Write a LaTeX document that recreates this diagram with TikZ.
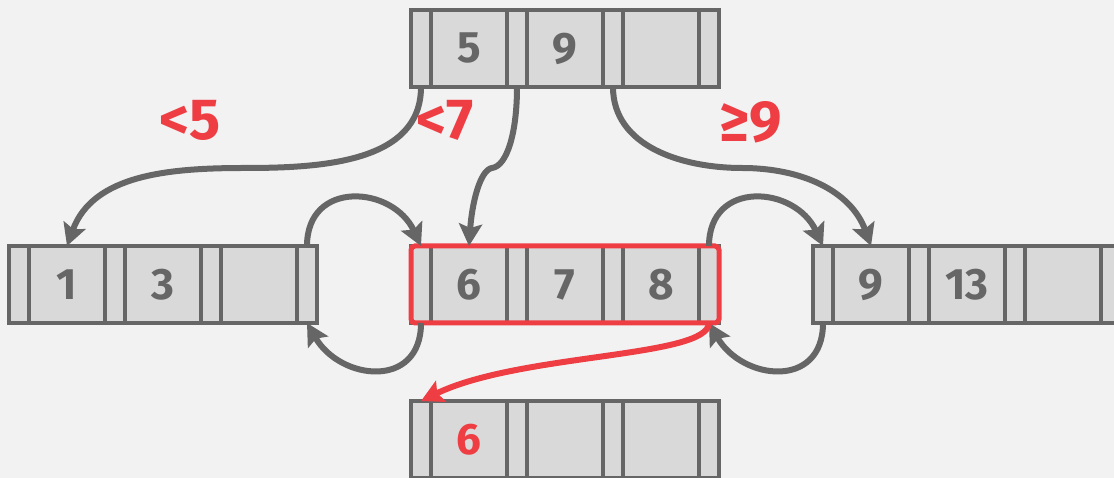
\documentclass[tikz,border=0pt]{standalone}
\usepackage{fontspec}
\setmainfont{Fira Sans}
\usetikzlibrary{arrows.meta,positioning,fit}

\definecolor{lineg}{HTML}{666666}
\definecolor{cellg}{HTML}{D9D9D9}
\definecolor{bgg}{HTML}{F2F2F2}
\definecolor{bred}{HTML}{EE3E44}

\begin{document}
\begin{tikzpicture}[
  x=1pt, y=1pt,
  >={Stealth[length=22pt,width=23pt,inset=4pt]},
  % Node cells
  ptrcell/.style={
    rectangle, draw=lineg, fill=cellg, line width=3.5pt,
    minimum width=20pt, minimum height=77pt,
    inner sep=0pt, outer sep=0pt
  },
  keycell/.style={
    ptrcell, minimum width=76pt, text=lineg,
    font=\fontsize{44}{44}\selectfont\bfseries
  },
  hilite/.style={
    rectangle, draw=bred, line width=5pt, rounded corners=4pt,
    inner sep=0pt, outer sep=0pt
  },
  % Separator labels
  guard/.style={text=bred, font=\fontsize{58}{58}\selectfont\bfseries},
  % Arrows
  link/.style={->, draw=lineg, line width=6pt},
  rlink/.style={->, draw=bred, line width=6pt},
]

\useasboundingbox (0,0) rectangle (1114,478);
\fill[bgg] (0,0) rectangle (1114,478);
\clip (0,0) rectangle (1114,478);

% -------------------------------------------------------
% NODES — inner node (t), leaves (l, m, r), new leaf (b)
% -------------------------------------------------------
\foreach \nm/\px/\py/\ka/\kb/\kc in {t/411/391/5/9/{}, l/9/155/1/3/{},
    m/411/155/6/7/8, r/813/155/9/13/{}, b/411/0/{\color{bred}6}/{}/{}}{
  \node[ptrcell, anchor=south west] (\nm-p0) at (\px,\py) {};
  \node[keycell, right=0pt of \nm-p0] (\nm-k1) {\ka};
  \node[ptrcell, right=0pt of \nm-k1] (\nm-p1) {};
  \node[keycell, right=0pt of \nm-p1] (\nm-k2) {\kb};
  \node[ptrcell, right=0pt of \nm-k2] (\nm-p2) {};
  \node[keycell, right=0pt of \nm-p2] (\nm-k3) {\kc};
  \node[ptrcell, right=0pt of \nm-k3] (\nm-p3) {};
}

% full leaf
\node[hilite, fit=(m-p0)(m-p3)] (mbox) {};

% -------------------------------------------------------
% INNER NODE -> LEAVES
% -------------------------------------------------------
\coordinate (lmid) at (245,310);
\coordinate (bend) at (492,310);
\coordinate (rmid) at (742,310);
\draw[link] (t-p0.south) to[out=-90,in=0] (lmid) to[out=180,in=70] (l-k1.north);
\draw[link] (t-p1.south) .. controls (517,345) and (507,312) .. (bend)
  .. controls (480,308) and (472,275) .. (m-k1.north);
\draw[link] (t-p2.south) to[out=-90,in=180] (rmid) to[out=0,in=110] (r-k1.north);

\node[guard] (lt5) at (190,358) {<5};
\node[guard] (lt7) at (445,358) {<7};
\node[guard] (ge9) at (751,356) {≥9};

% -------------------------------------------------------
% SIBLING POINTERS
% -------------------------------------------------------
\draw[link] (l-p3.north) to[out=90,in=115,looseness=1.5] (m-p0.north);
\draw[link] (m-p0.south) to[out=-90,in=-60,looseness=1.5] (l-p3.south);
\draw[link] (m-p3.north) to[out=90,in=115,looseness=1.5] (r-p0.north);
\draw[link] (r-p0.south) to[out=-90,in=-60,looseness=1.5] (m-p3.south);

% split
\draw[rlink] (m-p3.south) .. controls (708,120) and (520,125) .. (b-p0.north);

\end{tikzpicture}
\end{document}
